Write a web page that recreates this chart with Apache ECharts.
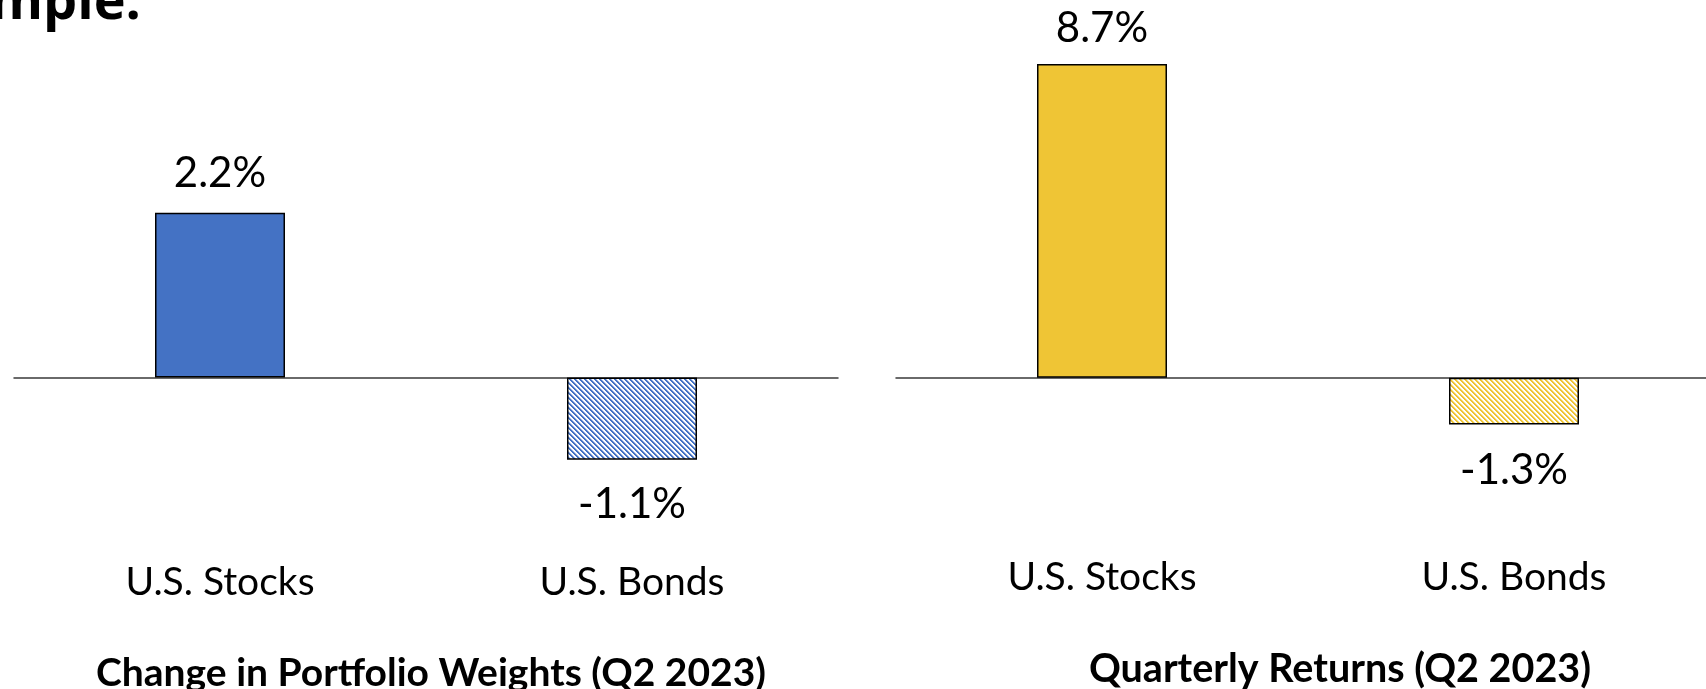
<!DOCTYPE html>
<html>
<head>
<meta charset="utf-8">
<style>
  html, body { margin: 0; padding: 0; background: #fff; }
  #chart { width: 1706px; height: 689px; }
</style>
<script src="https://cdn.jsdelivr.net/npm/echarts@6/dist/echarts.min.js"></script>
</head>
<body>
<div id="chart"></div>
<script>
// Asset classes shown on both panels
const categories = ['U.S. Stocks', 'U.S. Bonds'];
// Change in portfolio weights, percentage points
const weightChange = [2.2, -1.1];
// Quarterly returns, percent
const quarterlyReturns = [8.7, -1.3];
// Panel captions
const panelTitles = ['Change in Portfolio Weights (Q2 2023)', 'Quarterly Returns (Q2 2023)'];
const headingText = 'Example:';

const BLUE = '#4472C4';
const GOLD = '#EFC535';
const FONT = 'Lato, "Open Sans", sans-serif';

// Diagonal stripe tile (top-left to bottom-right) used for the negative bars
function hatch(color) {
  const size = 5;
  const c = document.createElement('canvas');
  c.width = size; c.height = size;
  const ctx = c.getContext('2d');
  ctx.fillStyle = '#ffffff';
  ctx.fillRect(0, 0, size, size);
  for (let y = 0; y < size; y++) {
    for (let x = 0; x < size; x++) {
      const k = (((x - y) % size) + size) % size;
      if (k < 2) { ctx.globalAlpha = 1; ctx.fillStyle = color; ctx.fillRect(x, y, 1, 1); }
      else if (k === 2) { ctx.globalAlpha = 0.45; ctx.fillStyle = color; ctx.fillRect(x, y, 1, 1); }
    }
  }
  ctx.globalAlpha = 1;
  return { image: c, repeat: 'repeat' };
}

function barItems(values, color, posDist, negDist) {
  return values.map(v => ({
    value: v,
    itemStyle: { color: v >= 0 ? color : hatch(color) },
    label: { position: v >= 0 ? 'top' : 'bottom', distance: v >= 0 ? posDist : negDist }
  }));
}

const baseAxis = (gridIndex, margin) => ({
  type: 'category',
  gridIndex,
  data: categories,
  axisLine: { onZero: true, lineStyle: { color: '#3a3a3a', width: 1.5 } },
  axisTick: { show: false },
  axisLabel: { margin, color: '#000', fontSize: 39, fontFamily: FONT }
});

const chart = echarts.init(document.getElementById('chart'), null, { renderer: 'canvas' });
chart.setOption({
  animation: false,
  backgroundColor: '#fff',
  grid: [
    { left: 14, width: 824, top: 153, height: 374, containLabel: false, outerBoundsMode: 'none' },
    { left: 896, width: 824, top: 17, height: 505, containLabel: false, outerBoundsMode: 'none' }
  ],
  xAxis: [baseAxis(0, 36), baseAxis(1, 36)],
  yAxis: [
    { type: 'value', gridIndex: 0, min: -2, max: 3, show: false },
    { type: 'value', gridIndex: 1, min: -4, max: 10, show: false }
  ],
  series: [
    {
      type: 'bar', xAxisIndex: 0, yAxisIndex: 0, barWidth: 130,
      data: barItems(weightChange, BLUE, 18, 24),
      itemStyle: { borderColor: '#000', borderWidth: 1.5 },
      label: { show: true, color: '#000', fontSize: 42, fontFamily: FONT,
               formatter: p => p.value.toFixed(1) + '%' }
    },
    {
      type: 'bar', xAxisIndex: 1, yAxisIndex: 1, barWidth: 130,
      data: barItems(quarterlyReturns, GOLD, 14, 25),
      itemStyle: { borderColor: '#000', borderWidth: 1.5 },
      label: { show: true, color: '#000', fontSize: 42, fontFamily: FONT,
               formatter: p => p.value.toFixed(1) + '%' }
    }
  ],
  graphic: [
    { type: 'text', style: { x: 431, y: 673, text: panelTitles[0], align: 'center', verticalAlign: 'middle',
      font: 'bold 39px ' + FONT, fill: '#000' } },
    { type: 'text', style: { x: 1340, y: 669, text: panelTitles[1], align: 'center', verticalAlign: 'middle',
      font: 'bold 39.5px ' + FONT, fill: '#000' } },
    { type: 'text', style: { x: 141, y: 31, text: headingText, align: 'right', verticalAlign: 'bottom',
      font: 'bold 54px "Open Sans", sans-serif', fill: '#000' } }
  ]
});
</script>
</body>
</html>
